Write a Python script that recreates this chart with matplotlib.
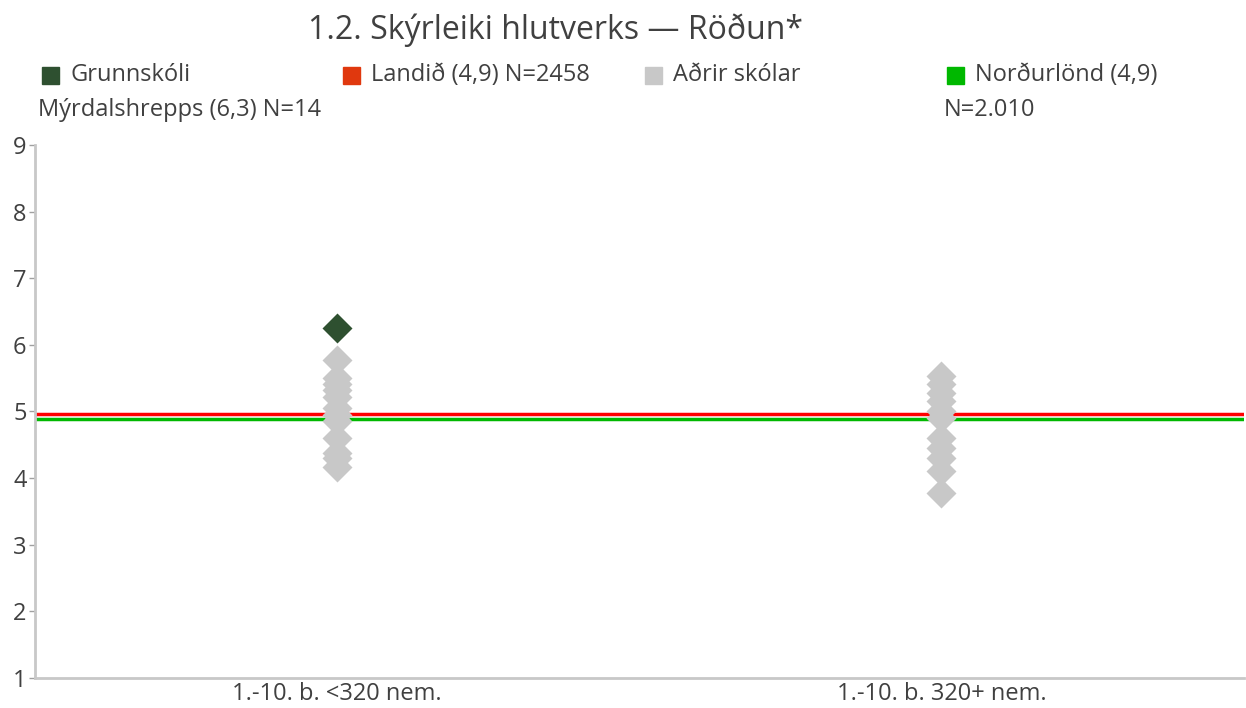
import matplotlib.pyplot as plt
from matplotlib.patches import Rectangle
import numpy as np

plt.rcParams['font.family'] = ['Open Sans', 'DejaVu Sans']

categories = ['1.-10. b. <320 nem.', '1.-10. b. 320+ nem.']
school_value = 6.26
school_cat = 0
others_small = [5.78, 5.5, 5.42, 5.32, 5.22, 5.05, 4.95, 4.85, 4.6, 4.38, 4.3, 4.17]
others_large = [5.53, 5.42, 5.28, 5.15, 5.0, 4.9, 4.6, 4.45, 4.3, 4.1, 3.77]
landid = 4.96
nordurlond = 4.88

fig = plt.figure(figsize=(12.46, 7.08), dpi=100)
ax = fig.add_axes([0.028, 0.0424, 0.97, 0.7528])

ax.axhline(landid, color='#FF0000', lw=2.5, zorder=1)
ax.axhline(nordurlond, color='#00B800', lw=2.5, zorder=1)
ax.plot(np.zeros(len(others_small)), others_small, 'D', ms=15, color='#C8C8C8', mec='none', zorder=2)
ax.plot(np.ones(len(others_large)), others_large, 'D', ms=15, color='#C8C8C8', mec='none', zorder=2)
ax.plot([school_cat], [school_value], 'D', ms=15, color='#2E5030', mec='none', zorder=3)

ax.set_xlim(-0.5, 1.5)
ax.set_ylim(1, 9)
ax.set_yticks(range(1, 10))
ax.set_xticks([0, 1])
ax.set_xticklabels(categories)
ax.tick_params(axis='y', colors='#A0A0A0', labelcolor='#404040', labelsize=17, length=4, width=1, pad=2)
ax.tick_params(axis='x', length=0, labelcolor='#404040', labelsize=17, pad=3)
for s in ['top', 'right']:
    ax.spines[s].set_visible(False)
for s in ['left', 'bottom']:
    ax.spines[s].set_color('#C8C8C8')
    ax.spines[s].set_linewidth(2)

fig.text(0.446, 0.958, '1.2. Skýrleiki hlutverks — Röðun*', ha='center', va='center',
         fontsize=23, color='#404040')

W, H = 1246, 708
legend_items = [(42, '#2E5030', 'Grunnskóli'), (343, '#E0380E', 'Landið (4,9) N=2458'),
                (645, '#C8C8C8', 'Aðrir skólar'), (947, '#00B800', 'Norðurlönd (4,9)')]
for x, c, label in legend_items:
    fig.patches.append(Rectangle((x / W, 1 - 84 / H), 17 / W, 17 / H, color=c,
                                 transform=fig.transFigure))
    fig.text((x + 28) / W, 1 - 75 / H, label, ha='left', va='center', fontsize=17, color='#404040')
fig.text(38 / W, 1 - 110 / H, 'Mýrdalshrepps (6,3) N=14', ha='left', va='center', fontsize=17, color='#404040')
fig.text(944 / W, 1 - 110 / H, 'N=2.010', ha='left', va='center', fontsize=17, color='#404040')

fig.savefig('out.png', dpi=100)
